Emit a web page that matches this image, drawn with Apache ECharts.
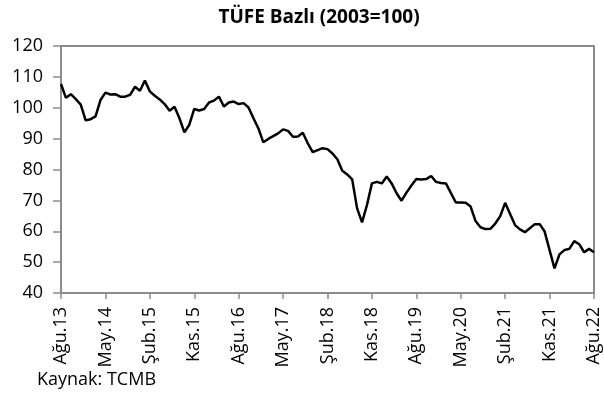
<!DOCTYPE html>
<html>
<head>
<meta charset="utf-8">
<script src="https://cdn.jsdelivr.net/npm/echarts@6/dist/echarts.min.js"></script>
<style>
	html, body { margin: 0; padding: 0; background: #fff; }
	#chart { width: 604px; height: 401px; }
</style>
</head>
<body>
<div id="chart"></div>
<script>
// ay adları (Türkçe kısaltma)
var monthNames = ['Oca', 'Şub', 'Mar', 'Nis', 'May', 'Haz', 'Tem', 'Ağu', 'Eyl', 'Eki', 'Kas', 'Ara']
// başlangıç: Ağustos 2013
var startYear = 2013
var startMonth = 7

// TÜFE bazlı reel efektif döviz kuru (2003=100), Ağu.13 - Ağu.22
var values = [
	107.7, 103.2, 104.4, 102.8, 101.0, 95.9, 96.3, 97.2, 102.5, 104.9,
	104.3, 104.4, 103.6, 103.6, 104.2, 106.8, 105.5, 108.8, 105.3, 103.9,
	102.7, 101.2, 99.0, 100.3, 96.6, 92.0, 94.5, 99.6, 99.1, 99.6,
	101.7, 102.3, 103.6, 100.4, 101.7, 102.0, 101.2, 101.5, 100.1, 96.6,
	93.3, 88.8, 89.9, 90.8, 91.7, 93.0, 92.5, 90.6, 90.7, 91.9,
	88.5, 85.6, 86.3, 86.9, 86.6, 85.2, 83.3, 79.6, 78.4, 76.8,
	67.4, 62.9, 68.5, 75.5, 76.0, 75.5, 77.7, 75.5, 72.3, 69.9,
	72.5, 74.8, 76.9, 76.8, 76.9, 77.9, 76.0, 75.6, 75.5, 72.4,
	69.3, 69.3, 69.2, 68.0, 63.3, 61.3, 60.7, 60.8, 62.5, 64.9,
	69.2, 65.6, 62.0, 60.6, 59.7, 61.0, 62.3, 62.3, 59.9, 53.9,
	48.0, 52.5, 53.9, 54.3, 56.8, 55.8, 53.2, 54.3, 53.2
]

// kategori etiketleri
var categories = []
for (let i = 0; i < values.length; i++) {
	let m = (startMonth + i) % 12
	let y = startYear + Math.floor((startMonth + i) / 12)
	categories.push(monthNames[m] + '.' + String(y).slice(2))
}

var font = 'Open Sans'
var axisGray = '#8c8c8c'

var chart = echarts.init(document.getElementById('chart'))
var option = {
	animation: false,
	title: {
		text: 'TÜFE Bazlı (2003=100)',
		left: 314,
		textAlign: 'center',
		top: 3,
		textStyle: { fontFamily: font, fontSize: 19, fontWeight: 'bold', color: '#000' }
	},
	graphic: [{
		type: 'text',
		left: 37,
		top: 371,
		style: { text: 'Kaynak: TCMB', fontFamily: font, fontSize: 18, fill: '#000' }
	}],
	grid: {
		left: 61,
		right: 10,
		top: 46,
		bottom: 108,
		show: true,
		borderColor: '#666',
		borderWidth: 1.5
	},
	xAxis: {
		type: 'category',
		data: categories,
		boundaryGap: false,
		axisLine: { lineStyle: { color: axisGray, width: 2 } },
		axisTick: { interval: 8, length: 6, lineStyle: { color: axisGray, width: 1.5 } },
		axisLabel: {
			interval: 8,
			rotate: 90,
			margin: 14,
			fontFamily: font,
			fontSize: 18,
			color: '#000'
		},
		splitLine: { show: false }
	},
	yAxis: {
		type: 'value',
		min: 40,
		max: 120,
		interval: 10,
		axisLine: { show: true, lineStyle: { color: axisGray, width: 2 } },
		axisTick: { show: true, length: 8, lineStyle: { color: axisGray, width: 1.5 } },
		axisLabel: { margin: 18, fontFamily: font, fontSize: 18, color: '#000' },
		splitLine: { show: false }
	},
	series: [{
		type: 'line',
		data: values,
		symbol: 'none',
		lineStyle: { color: '#000', width: 2.5 }
	}]
}
chart.setOption(option)
</script>
</body>
</html>
